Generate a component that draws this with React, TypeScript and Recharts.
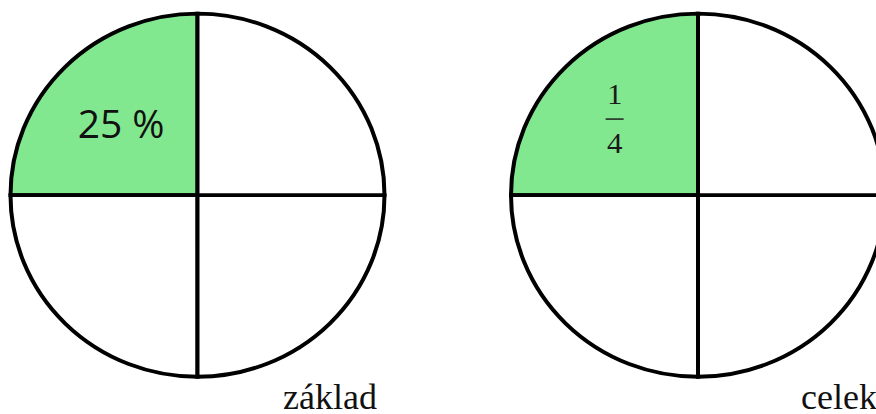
import { PieChart, Pie, Cell, Label } from "recharts";

// one quarter is shaded in both circles
const quarterNames = ["q1", "q2", "q3", "q4"];
const quarterValues = [1, 1, 1, 1];
const quarterFills = ["#82e890", "#ffffff", "#ffffff", "#ffffff"];
const captions = ["základ", "celek"];
const percentLabel = "25 %";
const fractionTop = "1";
const fractionBottom = "4";

const data = quarterNames.map((name, i) => ({ name, value: quarterValues[i] }));

const RAD = Math.PI / 180;
// the circles in the picture are slightly squashed vertically
const SQUASH = 0.971;
const CHART_H = Math.round(414 / SQUASH);
const CY = 201;

function labelPoint(props: any) {
  const { cx, cy, midAngle } = props;
  const r = 108;
  return {
    x: cx + r * Math.cos(-midAngle * RAD),
    y: cy + r * Math.sin(-midAngle * RAD),
  };
}

function PercentLabel(props: any) {
  if (props.index !== 0) return null;
  const { x, y } = labelPoint(props);
  return (
    <text
      x={x}
      y={y + 17}
      textAnchor="middle"
      fill="#111"
      fontSize={39}
      fontFamily="'Open Sans', sans-serif"
    >
      {percentLabel}
    </text>
  );
}

function FractionLabel(props: any) {
  if (props.index !== 0) return null;
  const p = labelPoint(props);
  const x = p.x - 7;
  const y = p.y;
  return (
    <g fontFamily="'Liberation Serif', serif" fontSize={31} fill="#1a1a1a">
      <text x={x} y={y - 18} textAnchor="middle">
        {fractionTop}
      </text>
      <line x1={x - 9} x2={x + 9} y1={y - 2} y2={y - 2} stroke="#1a1a1a" strokeWidth={1.5} />
      <text x={x} y={y + 33} textAnchor="middle">
        {fractionBottom}
      </text>
    </g>
  );
}

function caption(text: string, dx: number) {
  return (props: any) => {
    const vb = props.viewBox || {};
    return (
      <text
        x={vb.cx + dx}
        y={vb.cy + 220}
        fill="#111"
        fontSize={36}
        fontFamily="'Liberation Serif', serif"
      >
        {text}
      </text>
    );
  };
}

export default function App() {
  return (
    <div
      style={{
        position: "absolute",
        left: 0,
        top: 0,
        width: 876,
        height: 414,
        overflow: "hidden",
        background: "#fff",
      }}
    >
      <div style={{ transform: `scaleY(${SQUASH})`, transformOrigin: "0 0" }}>
        <PieChart width={876} height={CHART_H} margin={{ top: 0, right: 0, bottom: 0, left: 0 }}>
          <Pie
            data={data}
            dataKey="value"
            nameKey="name"
            cx={197.5}
            cy={CY}
            outerRadius={187}
            startAngle={90}
            endAngle={450}
            stroke="#000"
            strokeWidth={4}
            label={PercentLabel}
            labelLine={false}
            isAnimationActive={false}
          >
            {data.map((d, i) => (
              <Cell key={d.name} fill={quarterFills[i]} />
            ))}
            <Label content={caption(captions[0], 85.5)} />
          </Pie>
          <Pie
            data={data}
            dataKey="value"
            nameKey="name"
            cx={698}
            cy={CY}
            outerRadius={187}
            startAngle={90}
            endAngle={450}
            stroke="#000"
            strokeWidth={4}
            label={FractionLabel}
            labelLine={false}
            isAnimationActive={false}
          >
            {data.map((d, i) => (
              <Cell key={d.name} fill={quarterFills[i]} />
            ))}
            <Label content={caption(captions[1], 103)} />
          </Pie>
        </PieChart>
      </div>
    </div>
  );
}
